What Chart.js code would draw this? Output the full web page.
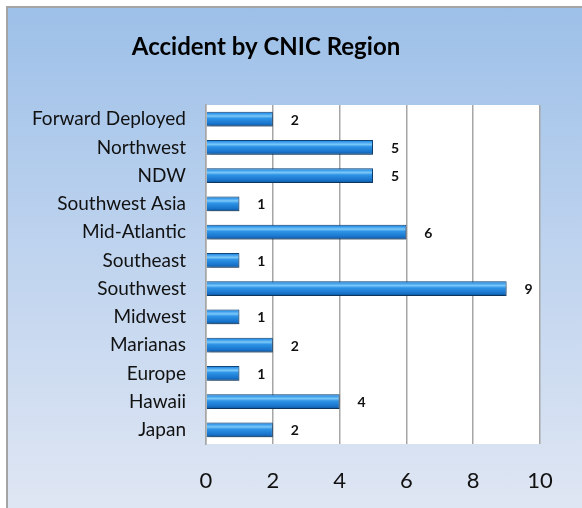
<!DOCTYPE html>
<html>
<head>
<meta charset="utf-8">
<script src="https://cdn.jsdelivr.net/npm/chart.js@4.4.0/dist/chart.umd.min.js"></script>
<style>
  html, body { margin: 0; padding: 0; background: #fff; }
  #frame {
    position: absolute; left: 6px; top: 6px; width: 574px; height: 500px;
    border-left: 2px solid #a4a4a4; border-top: 2px solid #a4a4a4;
    background: linear-gradient(to bottom, #9dc0e8 0%, #bcd2ee 45%, #dfe6f3 100%);
  }
  canvas { display: block; }
</style>
</head>
<body>
<div id="frame"><canvas id="chart" width="574" height="500"></canvas></div>
<script>
// Accident counts by CNIC region (top to bottom as shown)
const regions = [
  'Forward Deployed', 'Northwest', 'NDW', 'Southwest Asia', 'Mid-Atlantic', 'Southeast',
  'Southwest', 'Midwest', 'Marianas', 'Europe', 'Hawaii', 'Japan',
];
const accidents = [2, 5, 5, 1, 6, 1, 9, 1, 2, 1, 4, 2];
const xTicks = [0, 2, 4, 6, 8, 10];
const chartTitle = 'Accident by CNIC Region';

const FONT = 'Lato, "Open Sans", sans-serif';

// cylinder-ish fill across the bar thickness
function barFill(ctx) {
  const chart = ctx.chart;
  if (!chart.chartArea || ctx.type !== 'data') return '#2b88d8';
  const y = chart.scales.y;
  const c = y.getPixelForValue(ctx.dataIndex);
  const half = 7.5;
  const g = chart.ctx.createLinearGradient(0, c - half, 0, c + half);
  g.addColorStop(0, '#3a7cc0');
  g.addColorStop(0.12, '#2f96ea');
  g.addColorStop(0.3, '#7cc8f8');
  g.addColorStop(0.45, '#2e94e6');
  g.addColorStop(0.8, '#1874cc');
  g.addColorStop(1, '#0f4f92');
  return g;
}

const decor = {
  id: 'decor',
  beforeDraw(chart) {
    const { ctx, chartArea: a } = chart;
    ctx.save();
    ctx.fillStyle = '#ffffff';
    ctx.fillRect(a.left, a.top, a.right - a.left, a.bottom - a.top);
    // title sits left of centre in the original
    ctx.font = 'bold 24px ' + FONT;
    ctx.fillStyle = '#000';
    ctx.textAlign = 'center';
    ctx.textBaseline = 'middle';
    ctx.fillText(chartTitle, 258, 39);
    ctx.restore();
  },
  beforeDatasetsDraw(chart) {
    const ctx = chart.ctx;
    ctx.save();
    ctx.shadowColor = 'rgba(0,0,0,0.35)';
    ctx.shadowBlur = 4;
    ctx.shadowOffsetY = 2;
    ctx.shadowOffsetX = 1;
  },
  afterDatasetsDraw(chart) {
    const ctx = chart.ctx;
    ctx.restore();
    const meta = chart.getDatasetMeta(0);
    ctx.save();
    ctx.font = 'bold 14px ' + FONT;
    ctx.fillStyle = '#111';
    ctx.textAlign = 'center';
    ctx.textBaseline = 'middle';
    meta.data.forEach((bar, i) => {
      ctx.fillText(String(accidents[i]), bar.x + 22, bar.y + 1);
    });
    ctx.restore();
  },
};

new Chart(document.getElementById('chart'), {
  type: 'bar',
  data: {
    labels: regions,
    datasets: [{
      data: accidents,
      backgroundColor: barFill,
      borderColor: '#12497f',
      borderWidth: 1,
      borderSkipped: 'start',
      categoryPercentage: 1,
      barPercentage: 0.53,
    }],
  },
  options: {
    indexAxis: 'y',
    responsive: false,
    animation: false,
    layout: { padding: { left: 0, right: 42, top: 97, bottom: 0 } },
    plugins: {
      legend: { display: false },
      tooltip: { enabled: false },
      title: { display: false },
    },
    scales: {
      x: {
        min: 0, max: 10,
        afterBuildTicks: (s) => { s.ticks = xTicks.map(v => ({ value: v })); },
        afterFit: (s) => { s.height = 64; },
        grid: { color: '#a6a6a6', lineWidth: 1.5, drawTicks: false },
        border: { display: false },
        ticks: { color: '#111', padding: 24, font: { family: FONT, size: 22 } },
      },
      y: {
        afterFit: (s) => { s.width = 198; },
        grid: { display: false, drawTicks: false },
        border: { display: true, color: '#a6a6a6', width: 1.5 },
        ticks: { color: '#111', padding: 20, font: { family: FONT, size: 19 } },
      },
    },
  },
  plugins: [decor],
});
</script>
</body>
</html>
